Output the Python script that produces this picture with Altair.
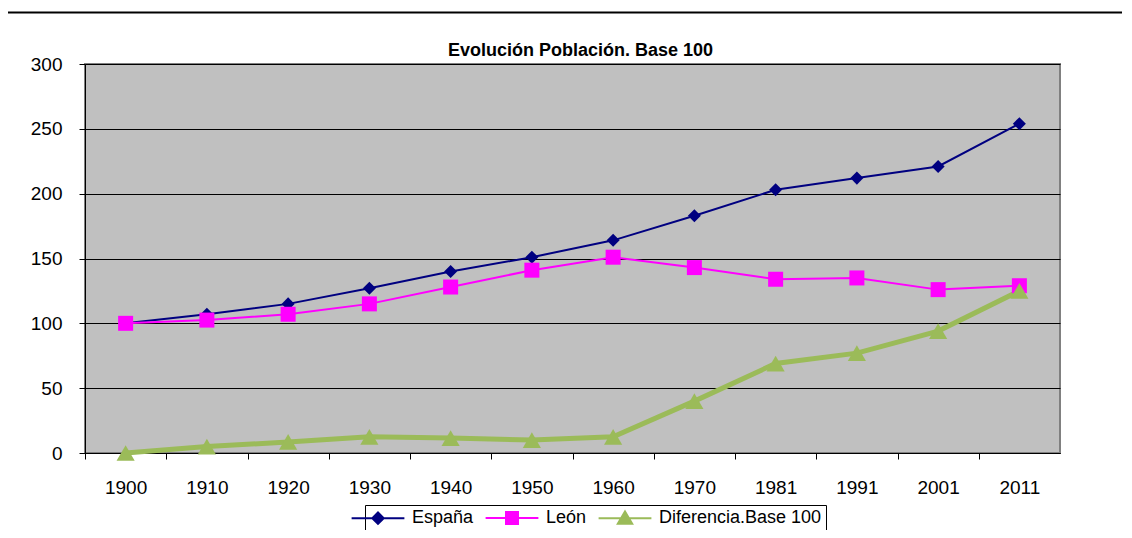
import altair as alt
import pandas as pd

years = ["1900", "1910", "1920", "1930", "1940", "1950", "1960", "1970", "1981", "1991", "2001", "2011"]
espana = [100, 107, 115, 127, 140, 151, 164, 183, 203, 212, 221, 254]
leon = [100, 102.5, 107, 115, 128, 141, 151, 143, 134, 135, 126, 129]
diferencia = [0, 5, 8.5, 12.5, 11.5, 10, 12.5, 40, 69, 77, 94, 125]

series = ["España", "León", "Diferencia.Base 100"]
colors = ["#000080", "#FF00FF", "#9BBB59"]
widths = [2, 2, 5]
shapes = ["diamond", "square", "triangle-up"]
sizes = [170, 225, 330]

rows = []
for name, vals in zip(series, [espana, leon, diferencia]):
    for yr, v in zip(years, vals):
        rows.append({"year": yr, "value": v, "serie": name})
df = pd.DataFrame(rows)

FONT = "Liberation Sans Narrow, Arial Narrow, Liberation Sans, Arial"
FS = 19
W, H = 975, 389

xenc = alt.X("year:O", sort=years, title=None,
             scale=alt.Scale(type="point", padding=0.5),
             axis=alt.Axis(labelAngle=0, tickOffset=-W / 24, labelOffset=W / 24, labelPadding=19,
                           tickSize=6, labelFontSize=FS, labelFont=FONT, labelColor="black",
                           domainColor="black", tickColor="black", grid=False))
yenc = alt.Y("value:Q", title=None,
             scale=alt.Scale(domain=[0, 300], nice=False),
             axis=alt.Axis(values=[0, 50, 100, 150, 200, 250, 300], tickSize=6, labelPadding=17,
                           labelFontSize=FS, labelFont=FONT, labelColor="black",
                           domainColor="black", tickColor="black",
                           grid=True, gridColor="black", gridWidth=1))

base = alt.Chart(df)

data_layers = []
for name, col, wd, shp, sz in zip(series, colors, widths, shapes, sizes):
    sub = base.transform_filter(alt.datum.serie == name)
    data_layers.append(sub.mark_line(color=col, strokeWidth=wd).encode(x=xenc, y=yenc))
for name, col, wd, shp, sz in zip(series, colors, widths, shapes, sizes):
    sub = base.transform_filter(alt.datum.serie == name)
    data_layers.append(
        sub.mark_point(filled=True, shape=shp, size=sz, color=col, opacity=1).encode(x=xenc, y=yenc))

legend_paths = [
    "M-4.4,0L4.4,0M0,-0.95L0.95,0L0,0.95L-0.95,0Z",
    "M-4.4,0L4.4,0M-1,-1L1,-1L1,1L-1,1Z",
    "M-4.4,0L4.4,0M0,-1.1L1.2,0.95L-1.2,0.95Z",
]
leg = alt.Legend(orient="none", legendX=280, legendY=441, direction="horizontal", title=None,
                 strokeColor="black", fillColor="white", padding=4, symbolSize=144,
                 symbolStrokeWidth=2, symbolOpacity=1, labelFontSize=18, labelFont=FONT,
                 labelColor="black", labelOffset=25, labelLimit=400, columnPadding=7)
legend_layer = base.mark_point(filled=True, size=0, opacity=1).encode(
    x=xenc, y=yenc,
    fill=alt.Fill("serie:N", scale=alt.Scale(domain=series, range=colors), legend=leg),
    stroke=alt.Stroke("serie:N", scale=alt.Scale(domain=series, range=colors), legend=leg),
    shape=alt.Shape("serie:N", scale=alt.Scale(domain=series, range=legend_paths), legend=leg),
)

one = pd.DataFrame({"a": [0]})
frame_left = alt.Chart(one).mark_rule(color="black", strokeWidth=2).encode(
    x=alt.value(-78), y=alt.value(-51.5), y2=alt.value(480))
frame_top = alt.Chart(one).mark_rule(color="black", strokeWidth=2).encode(
    x=alt.value(-78), x2=alt.value(1050), y=alt.value(-51.5))

chart = alt.layer(frame_left, frame_top, *data_layers, legend_layer).properties(
    width=W, height=H,
    title=alt.TitleParams("Evolución Población. Base 100", font=FONT, fontSize=18,
                          fontWeight="bold", anchor="middle", dx=8, offset=0, dy=48.5,
                          color="black"),
    autosize=alt.AutoSizeParams(type="none"),
    padding={"left": 77, "top": 56, "right": 62, "bottom": 77},
).configure(
    background="white"
).configure_view(
    fill="#C0C0C0", stroke="#808080", strokeWidth=2
)

chart.save("out.html", embed_options={"renderer": "svg", "actions": False})
